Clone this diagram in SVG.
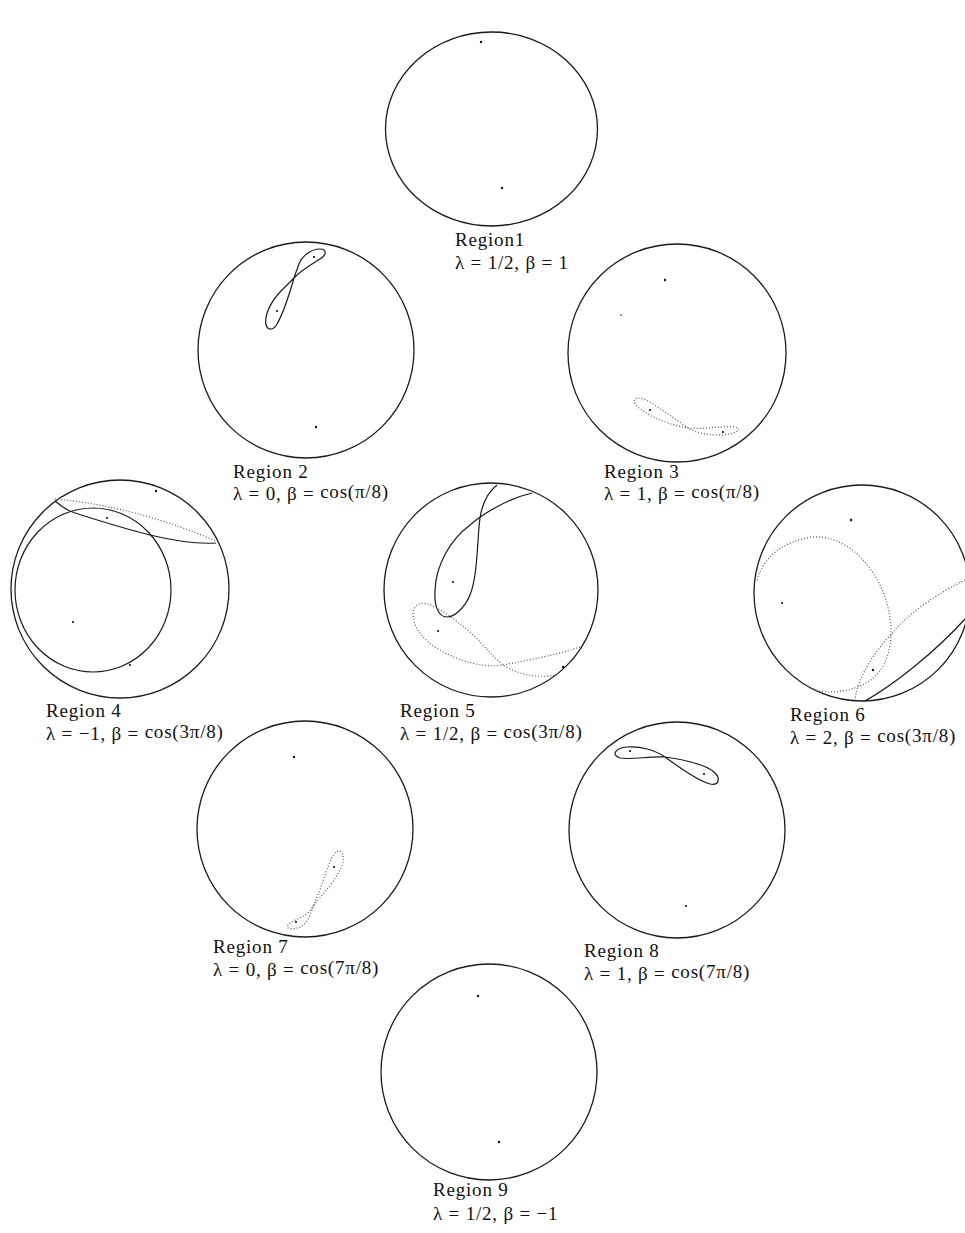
<svg xmlns="http://www.w3.org/2000/svg" width="965" height="1233" viewBox="0 0 965 1233">
<style>
.c{fill:none;stroke:#1a1a1a;stroke-width:1.3}
.s{fill:none;stroke:#1a1a1a;stroke-width:1.2}
.d{fill:none;stroke:#555;stroke-width:1.2;stroke-dasharray:1 2}
.p{fill:#111}
.t{font-family:"Liberation Serif","Times New Roman",serif;font-size:19px;letter-spacing:0.8px;fill:#111}
</style>
<rect width="965" height="1233" fill="#fff"/>
<g id="region1">
<ellipse class="c" cx="491.5" cy="129" rx="106" ry="97"/>
<circle class="p" cx="481" cy="42" r="1.2"/><circle class="p" cx="502" cy="188" r="1.2"/>
<text class="t" x="455" y="246">Region1</text>
<text class="t" x="455" y="269">λ = 1/2, β = 1</text>
</g>
<g id="region2">
<circle class="c" cx="306" cy="350" r="108"/>
<path class="s" d="M294 278 C290 292,284 312,277 324 C274 330,268 331,266 325 C264 314,272 300,282 290 C287 285,291 281,294 278 C300 271,312 264,320 259 C327 255,327 249,320 249 C311 249,302 256,299 264 C297 270,295 274,294 278 Z"/>
<circle class="p" cx="314" cy="257" r="1.1"/><circle class="p" cx="277" cy="311" r="1.1"/><circle class="p" cx="316" cy="427" r="1.2"/>
<text class="t" x="233" y="478">Region 2</text>
<text class="t" x="233" y="500">λ = 0, β = <tspan dy="-2">cos(π/8)</tspan></text>
</g>
<g id="region3">
<circle class="c" cx="677" cy="353" r="109"/>
<path class="d" d="M688 428 C680 422,665 412,650 402 C640 396,630 397,636 405 C644 414,665 424,688 428 C705 430,730 424,738 428 C741 432,730 435,718 435 C705 435,695 432,688 428 Z"/>
<circle class="p" cx="665" cy="280" r="1.2"/><circle class="p" cx="621" cy="315" r="0.8"/><circle class="p" cx="650" cy="410" r="1.1"/><circle class="p" cx="723" cy="432" r="1.1"/>
<text class="t" x="604" y="478">Region 3</text>
<text class="t" x="604" y="500">λ = 1, β = <tspan dy="-2">cos(π/8)</tspan></text>
</g>
<g id="region4">
<circle class="c" cx="120" cy="589" r="109"/>
<ellipse class="s" cx="93" cy="590" rx="78" ry="82"/>
<path class="s" d="M55 501 C62 507,68 511,75 513 C100 521,130 530,150 535 C175 541,200 544,216 543"/>
<path class="d" d="M55 499 Q134 506 216 541"/>
<circle class="p" cx="156" cy="491" r="1.2"/><circle class="p" cx="107" cy="518" r="1.1"/><circle class="p" cx="73" cy="622" r="1.1"/><circle class="p" cx="130" cy="665" r="1.1"/>
<text class="t" x="46" y="717">Region 4</text>
<text class="t" x="46" y="740">λ = −1, β = <tspan dy="-2">cos(3π/8)</tspan></text>
</g>
<g id="region5">
<circle class="c" cx="491" cy="590" r="107"/>
<path class="s" d="M497 485 C488 492,482 505,480 518 C477 540,478 575,470 595 C465 607,455 617,447 617 C438 617,434 605,435 590 C436 565,450 540,470 525 C485 512,510 498,532 493"/>
<path class="d" d="M580 647 C560 654,530 660,503 665 C485 668,460 662,440 650 C425 642,413 628,413 614 C413 605,420 602,428 604 C440 608,455 620,470 632 C482 643,492 656,503 665 C515 673,535 679,557 675"/>
<circle class="p" cx="453" cy="582" r="1.1"/><circle class="p" cx="438" cy="631" r="1.1"/><circle class="p" cx="563" cy="667" r="1.2"/>
<text class="t" x="400" y="717">Region 5</text>
<text class="t" x="400" y="740">λ = 1/2, β = <tspan dy="-2">cos(3π/8)</tspan></text>
</g>
<g id="region6">
<circle class="c" cx="862" cy="593" r="108"/>
<path class="d" d="M757 580 C762 560,780 542,812 537 C840 535,865 555,880 585 C892 610,895 640,885 662 C875 685,850 692,828 692 C820 692,815 690,812 688"/>
<path class="d" d="M965 580 C940 592,910 612,893 632 C875 652,858 675,855 700"/>
<path class="s" d="M865 701 C895 684,935 652,965 619"/>
<circle class="p" cx="851" cy="520" r="1.2"/><circle class="p" cx="782" cy="603" r="1.1"/><circle class="p" cx="873" cy="670" r="1.2"/>
<text class="t" x="790" y="721">Region 6</text>
<text class="t" x="790" y="744">λ = 2, β = <tspan dy="-2">cos(3π/8)</tspan></text>
</g>
<g id="region7">
<circle class="c" cx="305" cy="829" r="108"/>
<path class="d" d="M314 905 C322 895,336 880,342 866 C346 855,340 847,335 853 C328 862,324 880,318 895 C315 902,313 907,310 911 C303 918,292 920,288 925 C285 930,295 930,302 926 C308 922,311 912,314 905 Z"/>
<circle class="p" cx="294" cy="757" r="1.2"/><circle class="p" cx="334" cy="867" r="1.1"/><circle class="p" cx="296" cy="922" r="1.1"/>
<text class="t" x="213" y="953">Region 7</text>
<text class="t" x="213" y="976">λ = 0, β = <tspan dy="-2">cos(7π/8)</tspan></text>
</g>
<g id="region8">
<circle class="c" cx="677" cy="830" r="108"/>
<path class="s" d="M665 757 C680 759,705 764,714 772 C721 778,719 786,710 784 C698 781,680 768,665 757 C655 750,640 746,627 747 C615 748,611 755,620 758 C632 760,650 756,665 757 Z"/>
<circle class="p" cx="630" cy="751" r="1.1"/><circle class="p" cx="704" cy="774" r="1.1"/><circle class="p" cx="686" cy="906" r="1.1"/>
<text class="t" x="584" y="957">Region 8</text>
<text class="t" x="584" y="980">λ = 1, β = <tspan dy="-2">cos(7π/8)</tspan></text>
</g>
<g id="region9">
<circle class="c" cx="489" cy="1072" r="108"/>
<circle class="p" cx="478" cy="996" r="1.2"/><circle class="p" cx="499" cy="1142" r="1.2"/>
<text class="t" x="433" y="1196">Region 9</text>
<text class="t" x="433" y="1220">λ = 1/2, β = −1</text>
</g>
<g id="connectors"/>
</svg>
